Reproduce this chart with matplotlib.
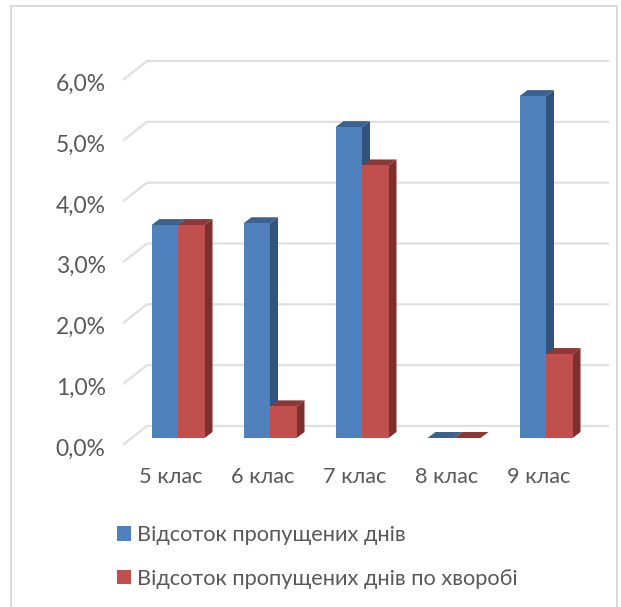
import matplotlib
matplotlib.use('Agg')
import matplotlib.pyplot as plt
from matplotlib.patches import Patch, Polygon, Rectangle
from matplotlib.transforms import ScaledTranslation

categories = ['5 клас', '6 клас', '7 клас', '8 клас', '9 клас']
missed_days = [3.5, 3.53, 5.11, 0.0, 5.62]
missed_sick = [3.5, 0.52, 4.48, 0.0, 1.38]
y_ticks = [0, 1, 2, 3, 4, 5, 6]
series_names = ['Відсоток пропущених днів', 'Відсоток пропущених днів по хворобі']

W, H = 621, 607
plt.rcParams['font.family'] = ['Lato', 'Open Sans', 'DejaVu Sans']
TEXT = '#595959'
GRID = '#e0e0e0'
FONT = 15.7

fig = plt.figure(figsize=(W / 100, H / 100), dpi=100)
# axes box is the plane the bar fronts stand on, in pixels
ax = fig.add_axes([132 / W, 1 - 438 / H, 460 / W, 365 / H])
ax.set_xlim(-0.5, 4.5)
ax.set_ylim(0, 6)
ax.patch.set_visible(False)
for s in ax.spines.values():
    s.set_visible(False)

# pixel -> data scale for the fake 3d depth
px_x = 5 / 460
px_y = 6 / 365
bar_w = 26.5 * px_x
depth_x = 8 * px_x
depth_y = 6 * px_y

# wall gridlines
for v in y_ticks:
    ax.plot([-0.5 - 8 * px_x, -0.5 + 15 * px_x, 4.5 + 16 * px_x],
            [v - 6 * px_y, v + 12 * px_y, v + 12 * px_y],
            color=GRID, lw=1.6, clip_on=False, zorder=1, solid_joinstyle='round')


def draw_bar(x0, val, front, side, top, z):
    ax.bar(x0, val, width=bar_w, align='edge', color=front, zorder=z + 0.2, clip_on=False)
    x1 = x0 + bar_w
    ax.add_patch(Polygon([(x1, 0), (x1 + depth_x, depth_y), (x1 + depth_x, val + depth_y), (x1, val)],
                         closed=True, fc=side, ec='none', zorder=z, clip_on=False))
    ax.add_patch(Polygon([(x0, val), (x0 + depth_x, val + depth_y), (x1 + depth_x, val + depth_y), (x1, val)],
                         closed=True, fc=top, ec='none', zorder=z + 0.1, clip_on=False))


for i in range(len(categories)):
    draw_bar(i - bar_w, missed_days[i], '#4F81BD', '#32537E', '#3B6191', 2 + i)
    draw_bar(i, missed_sick[i], '#C0504D', '#7D2F2D', '#8E3735', 2.5 + i)

ax.set_xticks(range(len(categories)))
ax.set_xticklabels(categories, fontsize=FONT, color=TEXT)
ax.set_yticks(y_ticks)
ax.set_yticklabels([f'{v:.1f}%'.replace('.', ',') for v in y_ticks], fontsize=16.5, color=TEXT)
ax.tick_params(axis='x', length=0, pad=21)
ax.tick_params(axis='y', length=0, pad=19)
# value labels sit level with the front of the wall, category labels left of the bars
offset = ScaledTranslation(0, -6.7 / 72, fig.dpi_scale_trans)
for lab in ax.get_yticklabels():
    lab.set_transform(lab.get_transform() + offset)
offset_x = ScaledTranslation(-5 / 72, 0, fig.dpi_scale_trans)
for lab in ax.get_xticklabels():
    lab.set_transform(lab.get_transform() + offset_x)

handles = [Patch(fc='#4F81BD', ec='none'), Patch(fc='#C0504D', ec='none')]
fig.legend(handles, series_names, loc='upper left', bbox_to_anchor=(117 / W, 1 - 525 / H),
           frameon=False, fontsize=FONT, labelcolor=TEXT, handlelength=0.64, handleheight=0.64,
           handletextpad=0.26, labelspacing=1.08, borderpad=0, borderaxespad=0)

# chart frame, open at the bottom of the crop
fig.add_artist(Rectangle((11 / W, -0.02), 606 / W, 1.02 - 5.5 / H, transform=fig.transFigure,
                         fc='none', ec='#d9d9d9', lw=1.4))

fig.savefig('out.png', dpi=100)
